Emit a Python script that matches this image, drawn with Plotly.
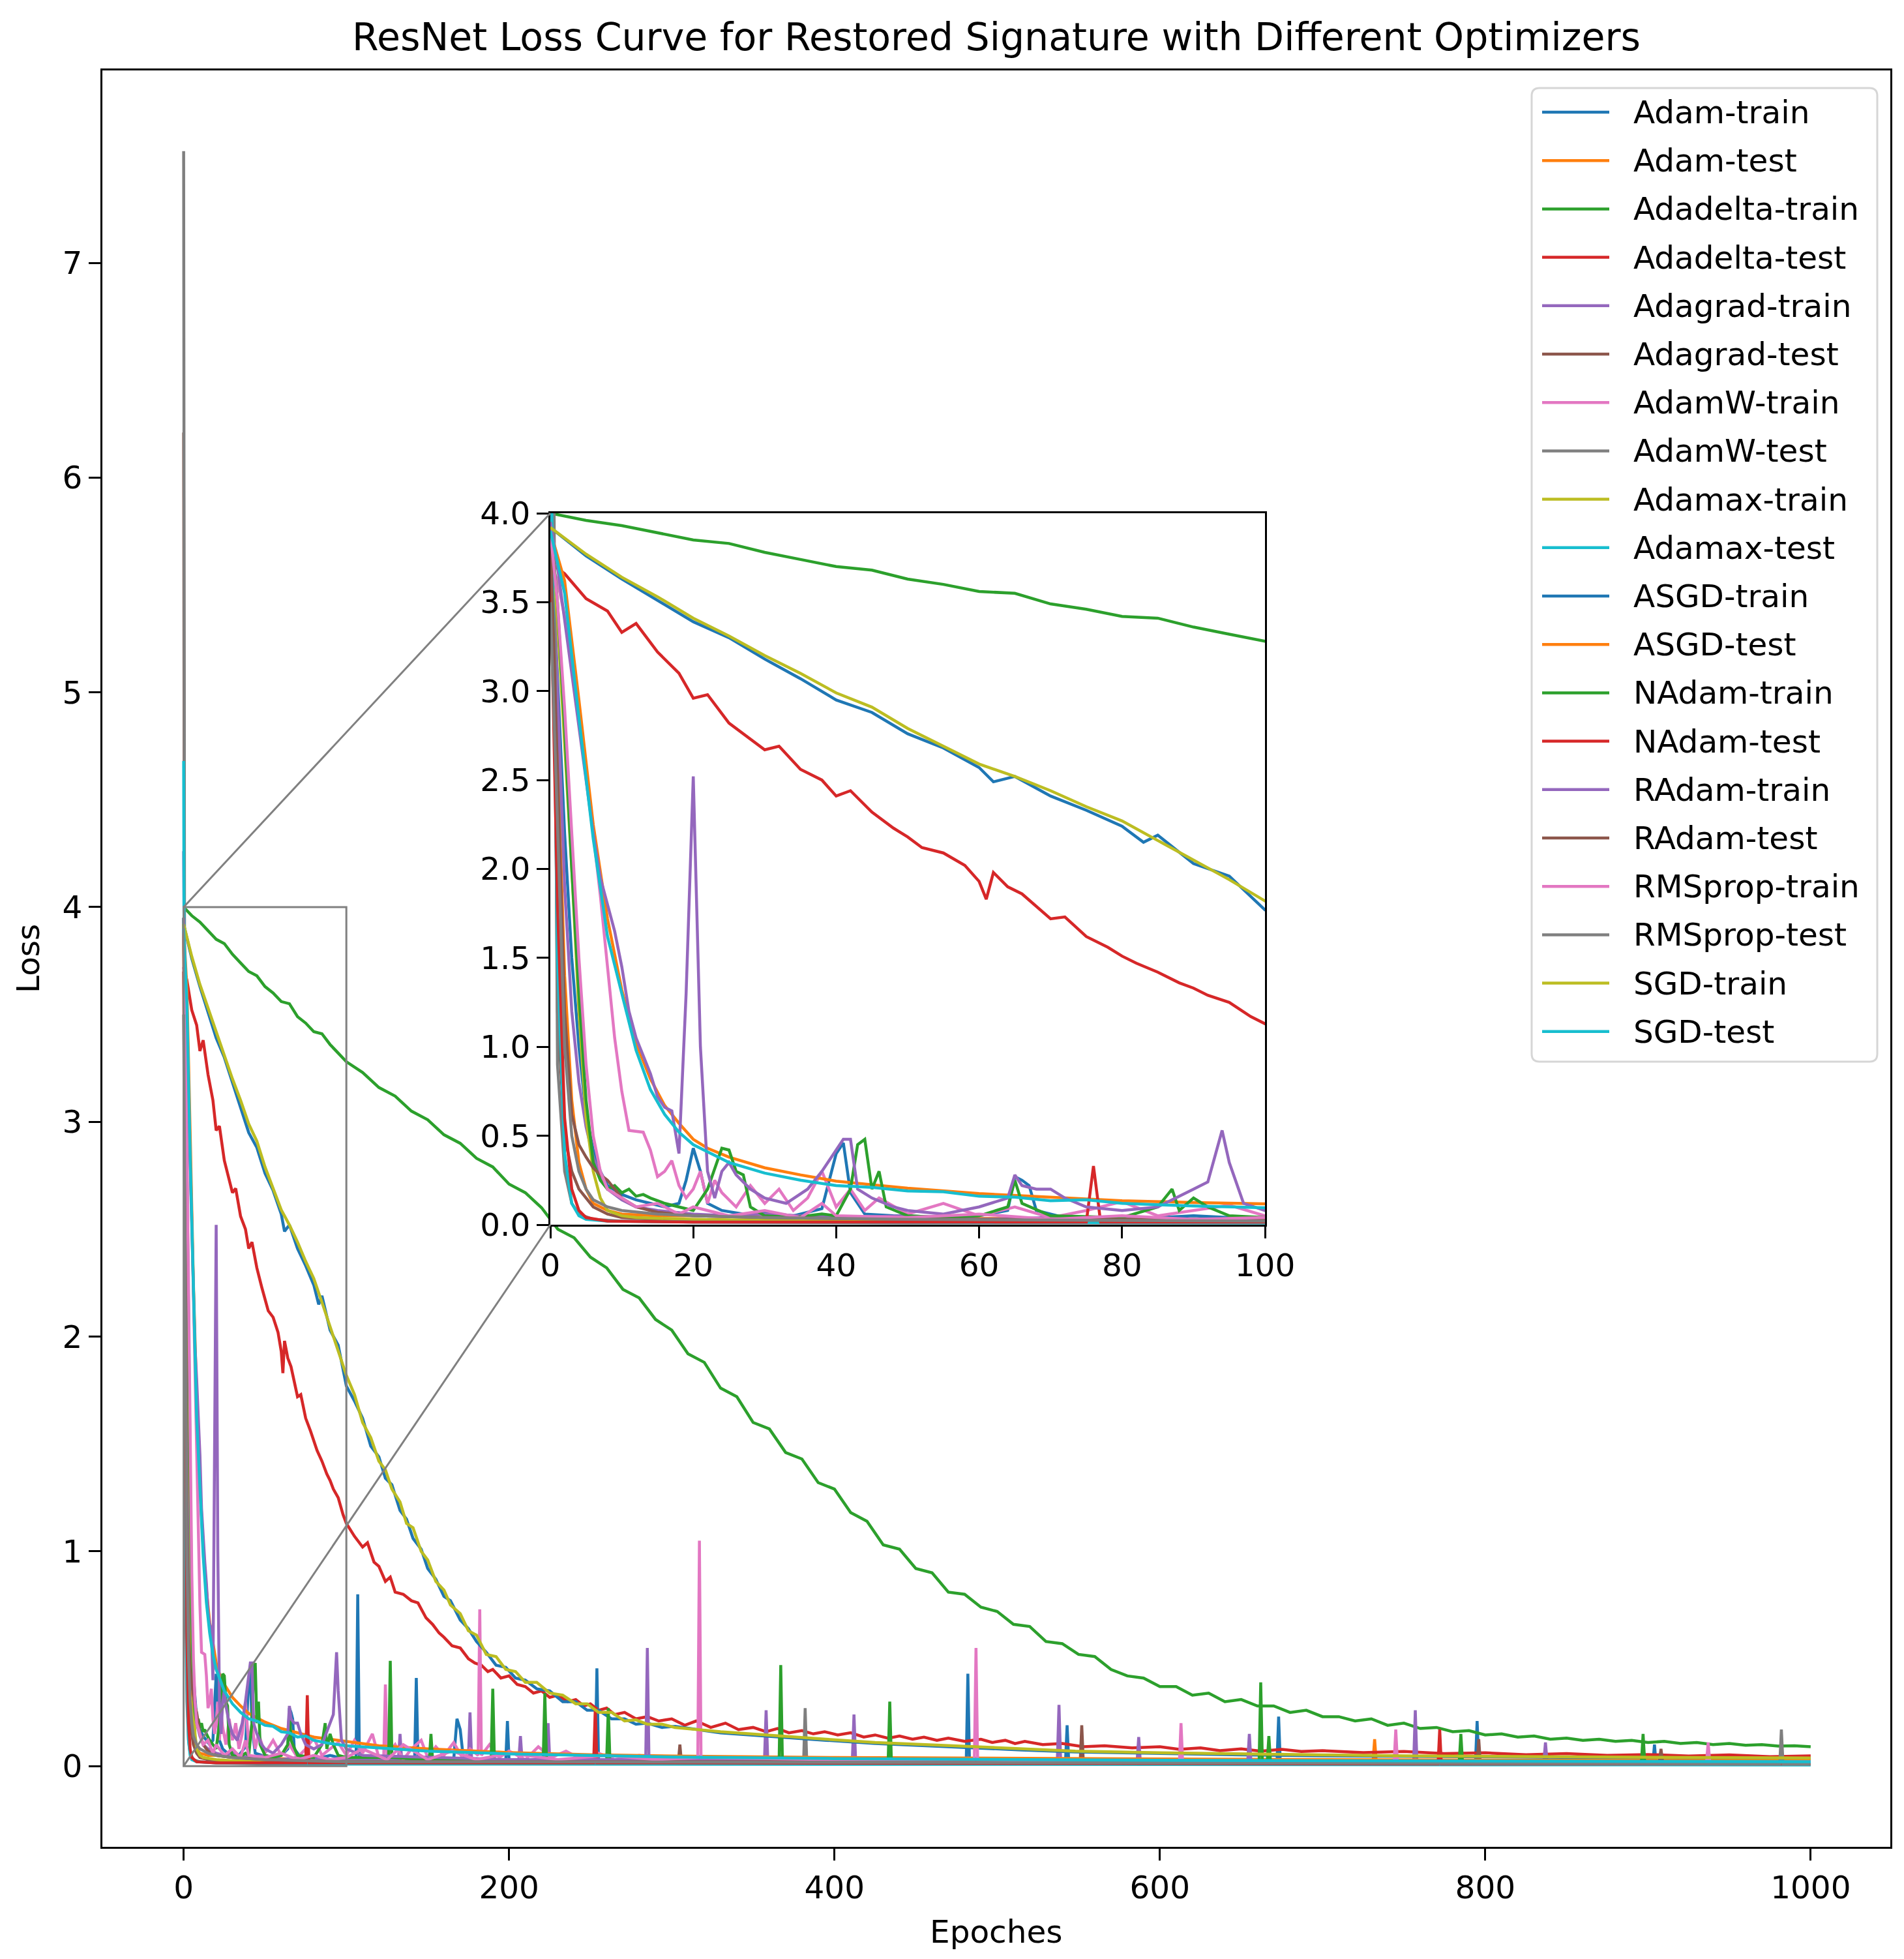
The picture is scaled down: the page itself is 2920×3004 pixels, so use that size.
import plotly.graph_objects as go

# ---------------- data ----------------
adam_train_ep = [0, 1, 2, 3, 4, 5, 6, 7, 8, 10,
                 12, 14, 16, 18, 19, 20, 21, 22, 24, 27,
                 30, 34, 38, 40, 41, 42, 44, 48, 55, 60,
                 64, 65, 66, 67, 68, 72, 80, 90, 100, 106,
                 107, 108, 120, 142, 143, 144, 160, 166, 168, 170,
                 172, 198, 199, 200, 230, 253, 254, 255, 300, 350,
                 400, 481, 482, 483, 520, 542, 543, 544, 600, 672,
                 673, 674, 750, 794, 795, 796, 850, 903, 904, 905,
                 950, 1000]
adam_train_loss = [3.95, 3.1, 2.2, 1.5, 1.0, 0.62, 0.42, 0.30, 0.22, 0.17,
                   0.14, 0.12, 0.10, 0.12, 0.25, 0.43, 0.30, 0.12, 0.08, 0.06,
                   0.07, 0.05, 0.09, 0.40, 0.46, 0.18, 0.06, 0.05, 0.04, 0.05,
                   0.08, 0.27, 0.25, 0.22, 0.08, 0.04, 0.03, 0.05, 0.03, 0.04,
                   0.80, 0.05, 0.03, 0.04, 0.41, 0.04, 0.03, 0.03, 0.22, 0.17,
                   0.03, 0.03, 0.21, 0.03, 0.02, 0.03, 0.455, 0.03, 0.02, 0.03,
                   0.02, 0.02, 0.43, 0.02, 0.02, 0.02, 0.19, 0.02, 0.02, 0.02,
                   0.23, 0.02, 0.01, 0.02, 0.21, 0.02, 0.01, 0.01, 0.10, 0.01,
                   0.01, 0.01]

adam_test_ep = [0, 1, 2, 3, 4, 5, 6, 8, 10, 15,
                20, 30, 40, 60, 80, 100, 150, 200, 300, 400,
                500, 600, 731, 732, 733, 800, 1000]
adam_test_loss = [3.90, 2.60, 1.40, 0.70, 0.35, 0.20, 0.12, 0.08, 0.06, 0.05,
                  0.05, 0.04, 0.04, 0.035, 0.03, 0.03, 0.03, 0.025, 0.02, 0.02,
                  0.02, 0.02, 0.02, 0.125, 0.02, 0.02, 0.02]

adadelta_train_ep = list(range(0, 100, 5)) + list(range(100, 1001, 10))
adadelta_train_loss = [4.00, 3.96, 3.93, 3.89, 3.85, 3.83, 3.78, 3.74, 3.70, 3.68,
                       3.63, 3.60, 3.56, 3.55, 3.49, 3.46, 3.42, 3.41, 3.36, 3.32,
                       3.28, 3.23, 3.16, 3.12, 3.05, 3.01, 2.94, 2.90, 2.83, 2.79,
                       2.71, 2.67, 2.60, 2.50, 2.46, 2.37, 2.32, 2.22, 2.18, 2.08,
                       2.03, 1.92, 1.88, 1.76, 1.72, 1.60, 1.57, 1.46, 1.43, 1.32,
                       1.29, 1.18, 1.14, 1.03, 1.01, 0.92, 0.90, 0.81, 0.80, 0.74,
                       0.72, 0.66, 0.65, 0.58, 0.57, 0.52, 0.51, 0.45, 0.42, 0.41,
                       0.37, 0.37, 0.33, 0.34, 0.30, 0.31, 0.28, 0.28, 0.25, 0.26,
                       0.23, 0.23, 0.21, 0.22, 0.19, 0.20, 0.175, 0.18, 0.16, 0.165,
                       0.145, 0.15, 0.135, 0.14, 0.125, 0.13, 0.12, 0.125, 0.115, 0.12,
                       0.11, 0.115, 0.105, 0.11, 0.10, 0.105, 0.097, 0.10, 0.093, 0.095,
                       0.09]

adadelta_test_ep = [0, 2, 5, 8, 10, 12, 15, 18, 20, 22,
                    25, 28, 30, 32, 35, 38, 40, 42, 45, 48,
                    50, 52, 55, 58, 60, 61, 62, 64, 66, 70,
                    72, 75, 78, 80, 82, 85, 88, 90, 92, 95,
                    98, 100,
                    105, 110, 113, 117, 120, 124, 127, 130, 135, 140,
                    144, 149, 153, 157, 160, 165, 170, 175, 179, 183,
                    187, 190, 195, 200, 205, 210, 215, 220, 225, 230,
                    236, 241, 246, 250, 255, 260, 265, 271, 278, 285,
                    292, 300, 308, 315, 324, 333, 341, 350, 358, 365,
                    372, 380, 387, 394, 402, 410, 418, 425, 433, 440,
                    448, 455, 463, 470, 480, 490, 497, 505, 511, 517,
                    528, 540, 553, 566, 583, 600, 612, 625, 637, 650,
                    662, 675, 687, 700, 725, 750, 775, 800, 825, 850,
                    875, 900, 925, 950, 975, 1000]
adadelta_test_loss = [3.72, 3.66, 3.52, 3.45, 3.33, 3.38, 3.22, 3.10, 2.96, 2.98,
                      2.82, 2.73, 2.67, 2.69, 2.56, 2.50, 2.41, 2.44, 2.32, 2.23,
                      2.18, 2.12, 2.09, 2.02, 1.93, 1.83, 1.98, 1.90, 1.86, 1.72,
                      1.73, 1.62, 1.56, 1.51, 1.47, 1.42, 1.36, 1.33, 1.29, 1.25,
                      1.17, 1.13,
                      1.07, 1.02, 1.04, 0.95, 0.93, 0.86, 0.88, 0.81, 0.80, 0.77,
                      0.76, 0.69, 0.66, 0.62, 0.60, 0.56, 0.55, 0.50, 0.48, 0.47,
                      0.44, 0.45, 0.41, 0.42, 0.38, 0.37, 0.34, 0.35, 0.32, 0.33,
                      0.30, 0.31, 0.28, 0.29, 0.26, 0.27, 0.24, 0.25, 0.22, 0.23,
                      0.21, 0.22, 0.19, 0.21, 0.18, 0.20, 0.17, 0.18, 0.16, 0.175,
                      0.155, 0.165, 0.15, 0.16, 0.145, 0.155, 0.135, 0.145, 0.13, 0.14,
                      0.125, 0.135, 0.12, 0.13, 0.115, 0.125, 0.11, 0.12, 0.105, 0.115,
                      0.10, 0.105, 0.09, 0.095, 0.085, 0.09, 0.078, 0.085, 0.072, 0.08,
                      0.07, 0.078, 0.068, 0.072, 0.063, 0.068, 0.058, 0.062, 0.053, 0.058,
                      0.05, 0.054, 0.047, 0.052, 0.044, 0.048]

adagrad_train_ep = [0, 1, 2, 3, 4, 5, 6, 7, 8, 10,
                    12, 15, 20, 25, 30, 40, 50, 60, 70, 80,
                    100, 132, 133, 134, 175, 176, 177, 206, 207, 208,
                    223, 224, 225, 357, 358, 359, 411, 412, 413, 537,
                    538, 539, 586, 587, 588, 756, 757, 758, 836, 837,
                    838, 1000]
adagrad_train_loss = [4.26, 3.0, 1.9, 1.2, 0.8, 0.55, 0.38, 0.27, 0.20, 0.14,
                      0.10, 0.08, 0.06, 0.05, 0.06, 0.04, 0.05, 0.03, 0.04, 0.03,
                      0.03, 0.03, 0.15, 0.03, 0.03, 0.25, 0.03, 0.03, 0.14, 0.03,
                      0.03, 0.20, 0.03, 0.03, 0.26, 0.03, 0.03, 0.24, 0.03, 0.03,
                      0.285, 0.03, 0.02, 0.135, 0.02, 0.02, 0.26, 0.02, 0.02, 0.11,
                      0.02, 0.02]

adagrad_test_ep = [0, 1, 2, 3, 4, 5, 6, 8, 10, 15,
                   20, 40, 60, 100, 200, 304, 305, 306, 400, 551,
                   552, 553, 700, 795, 796, 797, 1000]
adagrad_test_loss = [6.21, 1.20, 0.50, 0.30, 0.20, 0.15, 0.10, 0.06, 0.04, 0.03,
                     0.025, 0.02, 0.02, 0.015, 0.015, 0.015, 0.10, 0.015, 0.012, 0.012,
                     0.19, 0.012, 0.01, 0.01, 0.125, 0.01, 0.01]

adamw_train_ep = [0, 1, 2, 3, 4, 5, 6, 7, 8, 9,
                  10, 11, 13, 14, 15, 16, 17, 18, 19, 20,
                  21, 22, 23, 24, 26, 28, 30, 32, 34, 36,
                  38, 40, 42, 44, 46, 50, 55, 60, 65, 70,
                  75, 80, 85, 90, 95, 100, 105, 110, 116, 120,
                  123, 124, 125, 130, 135, 140, 146, 150, 155, 160,
                  166, 172, 176, 181, 182, 183, 188, 194, 200, 210,
                  218, 226, 235, 245, 255, 265, 280, 300, 350, 400,
                  500, 600, 700, 800, 1000]
adamw_train_loss = [3.72, 3.62, 3.42, 3.15, 2.85, 2.55, 2.20, 1.85, 1.45, 1.05,
                    0.75, 0.53, 0.52, 0.42, 0.27, 0.30, 0.36, 0.22, 0.15, 0.20,
                    0.30, 0.12, 0.25, 0.18, 0.10, 0.22, 0.12, 0.20, 0.08, 0.15,
                    0.30, 0.10, 0.20, 0.08, 0.15, 0.06, 0.12, 0.05, 0.10, 0.04,
                    0.08, 0.13, 0.05, 0.08, 0.11, 0.05, 0.12, 0.06, 0.15, 0.04,
                    0.05, 0.38, 0.05, 0.10, 0.03, 0.08, 0.12, 0.04, 0.09, 0.05,
                    0.11, 0.03, 0.08, 0.05, 0.73, 0.05, 0.10, 0.04, 0.07, 0.03,
                    0.09, 0.04, 0.07, 0.03, 0.06, 0.03, 0.05, 0.03, 0.03, 0.03,
                    0.03, 0.02, 0.02, 0.02, 0.02]

adamw_test_ep = [0, 1, 2, 3, 4, 6, 10, 20, 50, 100, 381, 382, 383, 1000]
adamw_test_loss = [7.52, 0.90, 0.30, 0.12, 0.06, 0.03, 0.02, 0.015, 0.01, 0.01, 0.01, 0.27, 0.01, 0.01]

adamax_train_ep = [0, 1, 2, 3, 4, 5, 6, 7, 8, 10, 12, 15, 20, 30, 50, 100, 200, 1000]
adamax_train_loss = [3.92, 3.40, 2.70, 2.00, 1.20, 0.60, 0.30, 0.15, 0.08, 0.05, 0.04, 0.035, 0.03, 0.025, 0.02, 0.02, 0.015, 0.01]

adamax_test_ep = [0, 1, 2, 3, 4, 5, 8, 20, 100, 1000]
adamax_test_loss = [4.68, 1.50, 0.40, 0.12, 0.05, 0.03, 0.02, 0.015, 0.01, 0.005]

asgd_train_ep = [0, 5, 10, 15, 20, 25, 30, 35, 40, 45,
                 50, 55, 60, 62, 65, 70, 75, 80, 83, 85,
                 90, 95, 100, 105, 110, 115, 120, 124, 128, 133,
                 137, 141, 146, 150, 155, 160, 164, 170, 175, 180,
                 186, 192, 198, 204, 210, 217, 225, 233, 241, 248,
                 255, 263, 271, 278, 285, 294, 302, 330, 364, 395,
                 425, 455, 486, 515, 548, 600, 650, 700, 750, 800,
                 850, 900, 950, 1000]
asgd_train_loss = [3.92, 3.76, 3.63, 3.51, 3.39, 3.30, 3.18, 3.07, 2.95, 2.88,
                   2.76, 2.68, 2.57, 2.49, 2.52, 2.41, 2.33, 2.24, 2.15, 2.19,
                   2.03, 1.96, 1.77, 1.70, 1.62, 1.49, 1.44, 1.34, 1.31, 1.19,
                   1.15, 1.06, 1.01, 0.92, 0.87, 0.79, 0.77, 0.68, 0.64, 0.58,
                   0.53, 0.47, 0.46, 0.41, 0.40, 0.36, 0.35, 0.30, 0.30, 0.26,
                   0.26, 0.22, 0.22, 0.195, 0.20, 0.18, 0.185, 0.155, 0.135, 0.12,
                   0.105, 0.095, 0.083, 0.075, 0.066, 0.058, 0.052, 0.048, 0.045, 0.042,
                   0.040, 0.038, 0.036, 0.035]

asgd_test_ep = [0, 2, 4, 6, 8, 10, 12, 14, 16, 18,
                20, 22, 25, 30, 35, 40, 45, 50, 60, 70,
                80, 90, 100, 120, 150, 200, 250, 300, 400, 500,
                600, 700, 800, 900, 1000]
asgd_test_loss = [3.90, 3.62, 2.95, 2.25, 1.72, 1.32, 1.02, 0.82, 0.67, 0.57,
                  0.48, 0.43, 0.38, 0.32, 0.28, 0.245, 0.225, 0.205, 0.175, 0.155,
                  0.135, 0.125, 0.115, 0.095, 0.08, 0.063, 0.053, 0.047, 0.04, 0.036,
                  0.032, 0.03, 0.028, 0.026, 0.025]

nadam_train_ep = [0, 1, 2, 3, 4, 5, 6, 7, 8, 9,
                  10, 11, 12, 13, 14, 16, 18, 20, 22, 24,
                  25, 26, 27, 28, 30, 34, 38, 40, 42, 43,
                  44, 45, 46, 47, 50, 55, 60, 64, 65, 66,
                  70, 80, 85, 87, 88, 90, 92, 95, 100, 126,
                  127, 128, 151, 152, 153, 189, 190, 191, 221, 222,
                  223, 260, 261, 262, 300, 366, 367, 368, 433, 434,
                  435, 600, 661, 662, 663, 666, 667, 668, 784, 785,
                  786, 896, 897, 898, 1000]
nadam_train_loss = [3.95, 3.50, 2.80, 2.00, 1.30, 0.70, 0.35, 0.25, 0.20, 0.22,
                    0.18, 0.20, 0.16, 0.17, 0.15, 0.12, 0.10, 0.08, 0.20, 0.43,
                    0.42, 0.30, 0.28, 0.10, 0.05, 0.04, 0.06, 0.05, 0.20, 0.45,
                    0.48, 0.20, 0.30, 0.10, 0.05, 0.04, 0.05, 0.10, 0.25, 0.12,
                    0.05, 0.04, 0.10, 0.20, 0.08, 0.15, 0.10, 0.05, 0.04, 0.04,
                    0.49, 0.04, 0.03, 0.15, 0.03, 0.03, 0.36, 0.03, 0.03, 0.34,
                    0.03, 0.03, 0.27, 0.03, 0.03, 0.03, 0.47, 0.03, 0.02, 0.30,
                    0.02, 0.02, 0.02, 0.39, 0.02, 0.02, 0.14, 0.02, 0.02, 0.15,
                    0.02, 0.02, 0.15, 0.02, 0.02]

nadam_test_ep = [0, 1, 2, 3, 4, 5, 8, 20, 75, 76, 77, 252, 253, 254, 771, 772, 773, 1000]
nadam_test_loss = [3.70, 1.80, 0.60, 0.20, 0.08, 0.04, 0.02, 0.015, 0.015, 0.33, 0.015, 0.015, 0.27, 0.015, 0.01, 0.17, 0.01, 0.01]

radam_train_ep = [0, 1, 2, 3, 4, 5, 6, 7, 8, 9,
                  10, 11, 12, 13, 14, 15, 16, 17, 18, 19,
                  20, 21, 22, 23, 24, 25, 26, 28, 30, 33,
                  36, 38, 40, 41, 42, 43, 45, 48, 50, 55,
                  60, 64, 65, 66, 68, 70, 72, 75, 80, 85,
                  90, 92, 94, 95, 97, 100, 110, 150, 200, 284,
                  285, 286, 400, 654, 655, 656, 1000]
radam_train_loss = [3.95, 3.70, 3.40, 3.10, 2.80, 2.50, 2.20, 1.95, 1.80, 1.65,
                    1.45, 1.20, 1.05, 0.95, 0.85, 0.72, 0.66, 0.64, 0.40, 1.30,
                    2.52, 1.00, 0.30, 0.15, 0.30, 0.35, 0.28, 0.20, 0.15, 0.12,
                    0.20, 0.30, 0.42, 0.48, 0.48, 0.20, 0.15, 0.10, 0.08, 0.06,
                    0.10, 0.15, 0.28, 0.22, 0.20, 0.20, 0.15, 0.10, 0.08, 0.10,
                    0.20, 0.24, 0.53, 0.35, 0.12, 0.08, 0.05, 0.04, 0.03, 0.03,
                    0.55, 0.03, 0.02, 0.02, 0.15, 0.02, 0.02]

radam_test_ep = [0, 1, 2, 3, 4, 5, 6, 7, 8, 9,
                 10, 12, 15, 20, 30, 50, 100, 200, 907, 908,
                 909, 1000]
radam_test_loss = [3.90, 2.60, 1.20, 0.62, 0.45, 0.38, 0.32, 0.28, 0.25, 0.20,
                   0.15, 0.10, 0.07, 0.05, 0.04, 0.03, 0.02, 0.02, 0.02, 0.08,
                   0.02, 0.015]

rmsprop_train_ep = [0, 1, 2, 3, 4, 5, 6, 7, 8, 10,
                    12, 15, 18, 20, 25, 30, 35, 38, 40, 50,
                    60, 70, 80, 90, 100, 110, 125, 135, 150, 165,
                    180, 200, 230, 260, 290, 316, 317, 318, 400, 486,
                    487, 488, 612, 613, 614, 744, 745, 746, 936, 937,
                    938, 1000]
rmsprop_train_loss = [3.90, 3.50, 2.90, 2.20, 1.50, 0.90, 0.50, 0.30, 0.20, 0.15,
                      0.10, 0.12, 0.06, 0.10, 0.05, 0.08, 0.04, 0.12, 0.05, 0.04,
                      0.06, 0.03, 0.05, 0.03, 0.04, 0.08, 0.03, 0.10, 0.03, 0.07,
                      0.03, 0.06, 0.03, 0.05, 0.03, 0.04, 1.05, 0.04, 0.03, 0.03,
                      0.55, 0.03, 0.02, 0.20, 0.02, 0.02, 0.17, 0.02, 0.02, 0.11,
                      0.02, 0.02]

rmsprop_test_ep = [0, 1, 2, 3, 4, 5, 6, 8, 10, 15, 20, 30, 50, 100, 200, 981, 982, 983, 1000]
rmsprop_test_loss = [3.50, 2.20, 1.00, 0.50, 0.30, 0.20, 0.14, 0.10, 0.08, 0.06, 0.05, 0.04, 0.03, 0.02, 0.02, 0.01, 0.17, 0.01, 0.01]

sgd_train_ep = list(range(0, 101, 5)) + [105, 110, 115, 120, 124, 128, 133, 137, 141, 146,
                                         150, 155, 160, 164, 170, 175, 180, 186, 192, 198,
                                         204, 210, 217, 225, 233, 241, 248, 255, 263, 271,
                                         278, 285, 294, 302, 330, 364, 395, 425, 455, 486,
                                         515, 548, 600, 650, 700, 750, 800, 850, 900, 950,
                                         1000]
sgd_train_loss = [3.92, 3.77, 3.64, 3.53, 3.41, 3.31, 3.20, 3.10, 2.99, 2.91,
                  2.79, 2.69, 2.59, 2.52, 2.44, 2.35, 2.27, 2.16, 2.05, 1.94,
                  1.82,
                  1.73, 1.60, 1.53, 1.42, 1.38, 1.29, 1.23, 1.13, 1.11, 1.00,
                  0.96, 0.86, 0.82, 0.75, 0.71, 0.63, 0.61, 0.52, 0.51, 0.45,
                  0.44, 0.39, 0.39, 0.34, 0.33, 0.29, 0.29, 0.25, 0.25, 0.21,
                  0.215, 0.195, 0.195, 0.18, 0.16, 0.14, 0.125, 0.11, 0.10, 0.088,
                  0.08, 0.07, 0.062, 0.056, 0.052, 0.048, 0.045, 0.043, 0.041, 0.039,
                  0.038]

sgd_test_ep = [0, 2, 4, 6, 8, 10, 12, 14, 16, 18,
               20, 22, 25, 30, 35, 40, 45, 50, 55, 60,
               65, 70, 75, 80, 90, 100, 120, 150, 200, 250,
               300, 400, 500, 600, 700, 800, 900, 1000]
sgd_test_loss = [3.90, 3.55, 2.85, 2.17, 1.62, 1.30, 0.98, 0.76, 0.62, 0.52,
                 0.45, 0.41, 0.35, 0.29, 0.25, 0.22, 0.21, 0.19, 0.185, 0.16,
                 0.155, 0.135, 0.14, 0.12, 0.105, 0.095, 0.085, 0.07, 0.057, 0.048,
                 0.042, 0.035, 0.03, 0.027, 0.025, 0.023, 0.021, 0.02]

names = ["Adam-train", "Adam-test", "Adadelta-train", "Adadelta-test", "Adagrad-train",
         "Adagrad-test", "AdamW-train", "AdamW-test", "Adamax-train", "Adamax-test",
         "ASGD-train", "ASGD-test", "NAdam-train", "NAdam-test", "RAdam-train",
         "RAdam-test", "RMSprop-train", "RMSprop-test", "SGD-train", "SGD-test"]

# ---------------- styling ----------------
tab10 = ["#1f77b4", "#ff7f0e", "#2ca02c", "#d62728", "#9467bd",
         "#8c564b", "#e377c2", "#7f7f7f", "#bcbd22", "#17becf"]

series = [
    (adam_train_ep, adam_train_loss), (adam_test_ep, adam_test_loss),
    (adadelta_train_ep, adadelta_train_loss), (adadelta_test_ep, adadelta_test_loss),
    (adagrad_train_ep, adagrad_train_loss), (adagrad_test_ep, adagrad_test_loss),
    (adamw_train_ep, adamw_train_loss), (adamw_test_ep, adamw_test_loss),
    (adamax_train_ep, adamax_train_loss), (adamax_test_ep, adamax_test_loss),
    (asgd_train_ep, asgd_train_loss), (asgd_test_ep, asgd_test_loss),
    (nadam_train_ep, nadam_train_loss), (nadam_test_ep, nadam_test_loss),
    (radam_train_ep, radam_train_loss), (radam_test_ep, radam_test_loss),
    (rmsprop_train_ep, rmsprop_train_loss), (rmsprop_test_ep, rmsprop_test_loss),
    (sgd_train_ep, sgd_train_loss), (sgd_test_ep, sgd_test_loss),
]

FONT = "DejaVu Sans"
FS = 48.5
LW = 4.5
OFF = 8                      # page body margin of the html page
WIN_W, WIN_H = 2920, 3004
W, H = WIN_W - 2 * OFF, WIN_H - 2 * OFF

# positions below are measured in window pixels
AX_L, AX_R, AX_T, AX_B = 157, 2899, 108, 2832
ML, MT = AX_L - OFF, AX_T - OFF
MR, MB = W - (AX_R - OFF), H - (AX_B - OFF)
PW, PH = W - ML - MR, H - MT - MB

main_xrange = [-49.95, 1048.95]
main_yrange = [-0.376, 7.896]
inset_xrange = [0, 100]
inset_yrange = [0, 4]
inset_left, inset_right, inset_top, inset_bottom = 844, 1940, 787, 1878


def px_x(x):
    return (x - OFF - ML) / PW


def px_y(y):
    return (H - MB - (y - OFF)) / PH


def main_to_paper(x, y):
    return ((x - main_xrange[0]) / (main_xrange[1] - main_xrange[0]),
            (y - main_yrange[0]) / (main_yrange[1] - main_yrange[0]))


fig = go.Figure()

for i, (ep, loss) in enumerate(series):
    fig.add_trace(go.Scatter(x=ep, y=loss, mode="lines", name=names[i],
                             line=dict(color=tab10[i % 10], width=LW), showlegend=False,
                             hoverinfo="skip"))
for i, (ep, loss) in enumerate(series):
    fig.add_trace(go.Scatter(x=ep, y=loss, mode="lines", name=names[i],
                             line=dict(color=tab10[i % 10], width=LW), showlegend=False,
                             hoverinfo="skip", xaxis="x2", yaxis="y2"))

axis_style = dict(showline=True, linecolor="black", linewidth=3, mirror=True,
                  ticks="outside", ticklen=18, tickwidth=3, tickcolor="black",
                  showgrid=False, zeroline=False,
                  tickfont=dict(family=FONT, size=FS, color="black"))

fig.update_layout(
    width=W, height=H,
    margin=dict(l=ML, r=MR, t=MT, b=MB, autoexpand=False),
    paper_bgcolor="white", plot_bgcolor="white",
    showlegend=False, hovermode=False,
    font=dict(family=FONT, size=FS, color="black"),
    xaxis=dict(domain=[0, 1], range=main_xrange, tickvals=[0, 200, 400, 600, 800, 1000],
               anchor="y", **axis_style),
    yaxis=dict(domain=[0, 1], range=main_yrange, tickvals=[0, 1, 2, 3, 4, 5, 6, 7],
               anchor="x", **axis_style),
    xaxis2=dict(domain=[px_x(inset_left), px_x(inset_right)], range=inset_xrange,
                tickvals=[0, 20, 40, 60, 80, 100], anchor="y2", **axis_style),
    yaxis2=dict(domain=[px_y(inset_bottom), px_y(inset_top)], range=inset_yrange,
                tickvals=[0, 0.5, 1, 1.5, 2, 2.5, 3, 3.5, 4], tickformat=".1f",
                anchor="x2", **axis_style),
)

shapes = []
# zoom indicator box in the main axes
shapes.append(dict(type="rect", xref="x", yref="y",
                   x0=inset_xrange[0], x1=inset_xrange[1], y0=inset_yrange[0], y1=inset_yrange[1],
                   line=dict(color="#808080", width=3), layer="above"))
# connector lines to the inset corners
for cy, iy in [(inset_yrange[1], inset_top), (inset_yrange[0], inset_bottom)]:
    sx, sy = main_to_paper(inset_xrange[0], cy)
    shapes.append(dict(type="line", xref="paper", yref="paper",
                       x0=sx, y0=sy, x1=px_x(inset_left), y1=px_y(iy),
                       line=dict(color="#808080", width=3), layer="above"))

# legend box drawn by hand to match the original frame
lx0, lx1, ly0, ly1, r = 2349, 2879, 135, 1628, 12
path = (f"M {px_x(lx0 + r)},{px_y(ly0)} L {px_x(lx1 - r)},{px_y(ly0)} "
        f"Q {px_x(lx1)},{px_y(ly0)} {px_x(lx1)},{px_y(ly0 + r)} "
        f"L {px_x(lx1)},{px_y(ly1 - r)} Q {px_x(lx1)},{px_y(ly1)} {px_x(lx1 - r)},{px_y(ly1)} "
        f"L {px_x(lx0 + r)},{px_y(ly1)} Q {px_x(lx0)},{px_y(ly1)} {px_x(lx0)},{px_y(ly1 - r)} "
        f"L {px_x(lx0)},{px_y(ly0 + r)} Q {px_x(lx0)},{px_y(ly0)} {px_x(lx0 + r)},{px_y(ly0)} Z")
shapes.append(dict(type="path", xref="paper", yref="paper", path=path,
                   fillcolor="rgba(255,255,255,0.8)", line=dict(color="#d6d6d6", width=3),
                   layer="above"))

annotations = []
row0, row_step = 172, 74.2
for i, name in enumerate(names):
    yc = row0 + i * row_step
    shapes.append(dict(type="line", xref="paper", yref="paper",
                       x0=px_x(2365), x1=px_x(2468), y0=px_y(yc), y1=px_y(yc),
                       line=dict(color=tab10[i % 10], width=LW), layer="above"))
    annotations.append(dict(x=px_x(2503), y=px_y(yc), xref="paper", yref="paper",
                            text=name, showarrow=False, xanchor="left", yanchor="middle",
                            font=dict(family=FONT, size=FS, color="black")))

annotations.append(dict(x=0.5, y=px_y(57), xref="paper", yref="paper",
                        text="ResNet Loss Curve for Restored Signature with Different Optimizers",
                        showarrow=False, xanchor="center", yanchor="middle",
                        font=dict(family=FONT, size=58.5, color="black")))
annotations.append(dict(x=0.5, y=px_y(2962), xref="paper", yref="paper", text="Epoches",
                        showarrow=False, xanchor="center", yanchor="middle",
                        font=dict(family=FONT, size=FS, color="black")))
annotations.append(dict(x=px_x(43), y=0.5, xref="paper", yref="paper", text="Loss",
                        showarrow=False, xanchor="center", yanchor="middle", textangle=-90,
                        font=dict(family=FONT, size=FS, color="black")))

fig.update_layout(shapes=shapes, annotations=annotations)

fig.write_html("out.html")
